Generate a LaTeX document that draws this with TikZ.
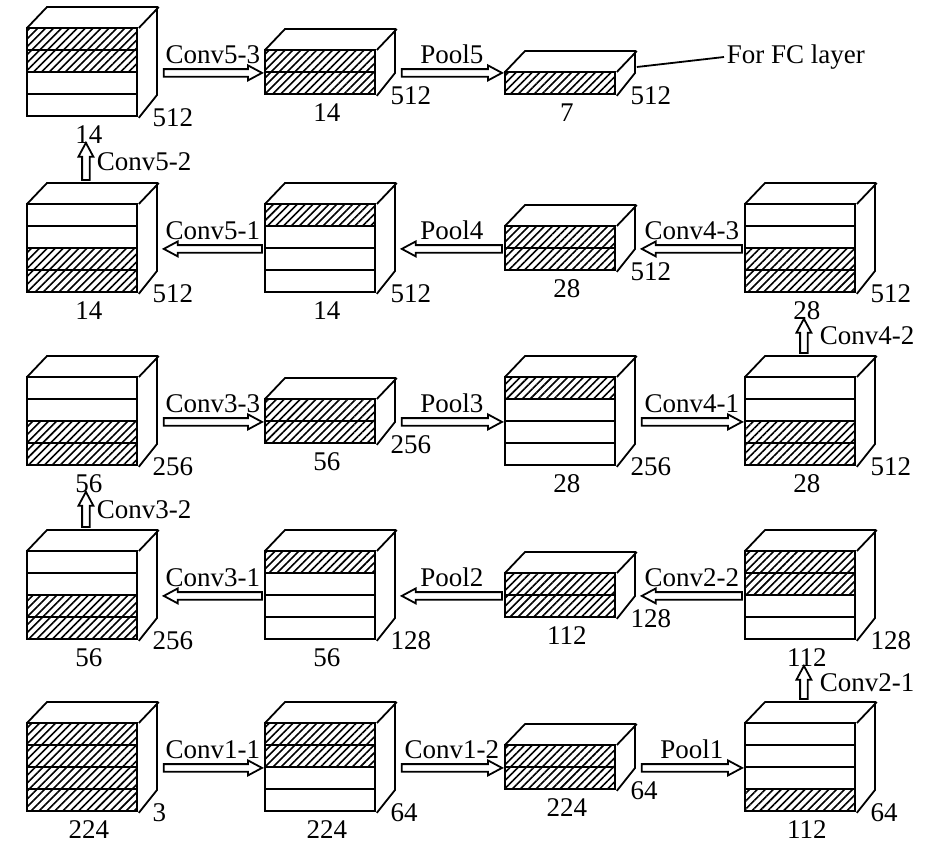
\documentclass[tikz,border=0pt]{standalone}
\usepackage{fontspec}
\setmainfont{Liberation Serif}
\usetikzlibrary{calc, positioning, patterns.meta}

\tikzset{
  face/.style={inner sep=0pt, minimum width=55pt, anchor=north west},
  hatch/.style={pattern={Lines[angle=45, distance=2.8pt, line width=0.8pt]}},
  lbl/.style={inner sep=1pt, font=\fontsize{13.5}{15}\selectfont},
  blk/.style={to path={
      ($(\tikztostart)!1.9pt!90:(\tikztotarget)$)
      -- ($(\tikztotarget)!7pt!(\tikztostart)!1.9pt!-90:(\tikztostart)$)
      -- ($(\tikztotarget)!7pt!(\tikztostart)!3.75pt!-90:(\tikztostart)$)
      -- (\tikztotarget)
      -- ($(\tikztotarget)!7pt!(\tikztostart)!3.75pt!90:(\tikztostart)$)
      -- ($(\tikztotarget)!7pt!(\tikztostart)!1.9pt!90:(\tikztostart)$)
      -- ($(\tikztostart)!1.9pt!-90:(\tikztotarget)$)
      -- cycle}}
}

% feature map: name, x, top of front face, layers, hatch flags, width, depth
\newcommand{\fmap}[7]{%
  \foreach \h [count=\i] in {#5} {
    \ifnum\h=1 \fill[hatch] (#2,{#3+22*(\i-1)}) rectangle ++(110,22); \fi
    \draw (#2,{#3+22*(\i-1)}) rectangle ++(110,22);
  }
  \node[face, minimum height=#4*11pt] (#1) at (#2,#3) {};
  \draw (#1.north west) -- ++(20,-21) -- ++(110,0) -- ++(0,#4*22) -- (#1.south east);
  \draw (#1.north east) -- ++(20,-21);
  \node[lbl, below=2.4pt, xshift=3pt] (#1w) at (#1.south) {#6};
  \node[lbl, right=5.5pt] (#1d) at (#1.south east) {#7};
  \coordinate (#1-r) at ([xshift=12.5pt]#1.east);
  \coordinate (#1-l) at ([xshift=-1.5pt]#1.west);
  \coordinate (#1-t) at ([xshift=1.5pt, yshift=12pt]#1.north);
  \coordinate (#1-b) at ([xshift=1.5pt, yshift=-12.5pt]#1.south);
}

\begin{document}
\begin{tikzpicture}[x=0.5pt, y=-0.5pt, line width=0.9pt]
  \useasboundingbox (0,0) rectangle (935,842);

  % row 1
  \fmap{a}{27}{28}{4}{1,1,0,0}{14}{512}
  \fmap{b}{265}{50}{2}{1,1}{14}{512}
  \fmap{c}{505}{72}{1}{1}{7}{512}
  % row 2
  \fmap{d}{27}{204}{4}{0,0,1,1}{14}{512}
  \fmap{e}{265}{204}{4}{1,0,0,0}{14}{512}
  \fmap{f}{505}{226}{2}{1,1}{28}{512}
  \fmap{g}{745}{204}{4}{0,0,1,1}{28}{512}
  % row 3
  \fmap{h}{27}{377}{4}{0,0,1,1}{56}{256}
  \fmap{i}{265}{399}{2}{1,1}{56}{256}
  \fmap{j}{505}{377}{4}{1,0,0,0}{28}{256}
  \fmap{k}{745}{377}{4}{0,0,1,1}{28}{512}
  % row 4
  \fmap{l}{27}{551}{4}{0,0,1,1}{56}{256}
  \fmap{m}{265}{551}{4}{1,0,0,0}{56}{128}
  \fmap{n}{505}{573}{2}{1,1}{112}{128}
  \fmap{o}{745}{551}{4}{1,1,0,0}{112}{128}
  % row 5
  \fmap{p}{27}{723}{4}{1,1,1,1}{224}{3}
  \fmap{q}{265}{723}{4}{1,1,0,0}{224}{64}
  \fmap{r}{505}{745}{2}{1,1}{224}{64}
  \fmap{s}{745}{723}{4}{0,0,0,1}{112}{64}

  % arrows
  \draw[blk] (p-r) to (q-l);
  \node[lbl, above=3pt] (c11) at ($(p-r)!.5!(q-l)$) {Conv1-1};
  \draw[blk] (q-r) to (r-l);
  \node[lbl, above=3pt] (c12) at ($(q-r)!.5!(r-l)$) {Conv1-2};
  \draw[blk] (r-r) to (s-l);
  \node[lbl, above=3pt] (p1) at ($(r-r)!.5!(s-l)$) {Pool1};
  \draw[blk] (s-t) to (o-b);
  \node[lbl, right=6.5pt] (c21) at ($(s-t)!.5!(o-b)$) {Conv2-1};
  \draw[blk] (o-l) to (n-r);
  \node[lbl, above=3pt] (c22) at ($(o-l)!.5!(n-r)$) {Conv2-2};
  \draw[blk] (n-l) to (m-r);
  \node[lbl, above=3pt] (p2) at ($(n-l)!.5!(m-r)$) {Pool2};
  \draw[blk] (m-l) to (l-r);
  \node[lbl, above=3pt] (c31) at ($(m-l)!.5!(l-r)$) {Conv3-1};
  \draw[blk] (l-t) to (h-b);
  \node[lbl, right=4pt] (c32) at ($(l-t)!.5!(h-b)$) {Conv3-2};
  \draw[blk] (h-r) to (i-l);
  \node[lbl, above=3pt] (c33) at ($(h-r)!.5!(i-l)$) {Conv3-3};
  \draw[blk] (i-r) to (j-l);
  \node[lbl, above=3pt] (p3) at ($(i-r)!.5!(j-l)$) {Pool3};
  \draw[blk] (j-r) to (k-l);
  \node[lbl, above=3pt] (c41) at ($(j-r)!.5!(k-l)$) {Conv4-1};
  \draw[blk] (k-t) to (g-b);
  \node[lbl, right=6.5pt] (c42) at ($(k-t)!.5!(g-b)$) {Conv4-2};
  \draw[blk] (g-l) to (f-r);
  \node[lbl, above=3pt] (c43) at ($(g-l)!.5!(f-r)$) {Conv4-3};
  \draw[blk] (f-l) to (e-r);
  \node[lbl, above=3pt] (p4) at ($(f-l)!.5!(e-r)$) {Pool4};
  \draw[blk] (e-l) to (d-r);
  \node[lbl, above=3pt] (c51) at ($(e-l)!.5!(d-r)$) {Conv5-1};
  \draw[blk] (d-t) to (a-b);
  \node[lbl, right=4pt] (c52) at ($(d-t)!.5!(a-b)$) {Conv5-2};
  \draw[blk] (a-r) to (b-l);
  \node[lbl, above=3pt] (c53) at ($(a-r)!.5!(b-l)$) {Conv5-3};
  \coordinate (c-in) at (b-r -| c-l);
  \draw[blk] (b-r) to (c-in);
  \node[lbl, above=3pt] (p5) at ($(b-r)!.5!(c-in)$) {Pool5};

  % output
  \node[lbl, anchor=west] (fc) at (724,57) {For FC layer};
  \draw ($(c.north east)+(20,-5)$) -- (fc.west);
\end{tikzpicture}
\end{document}
